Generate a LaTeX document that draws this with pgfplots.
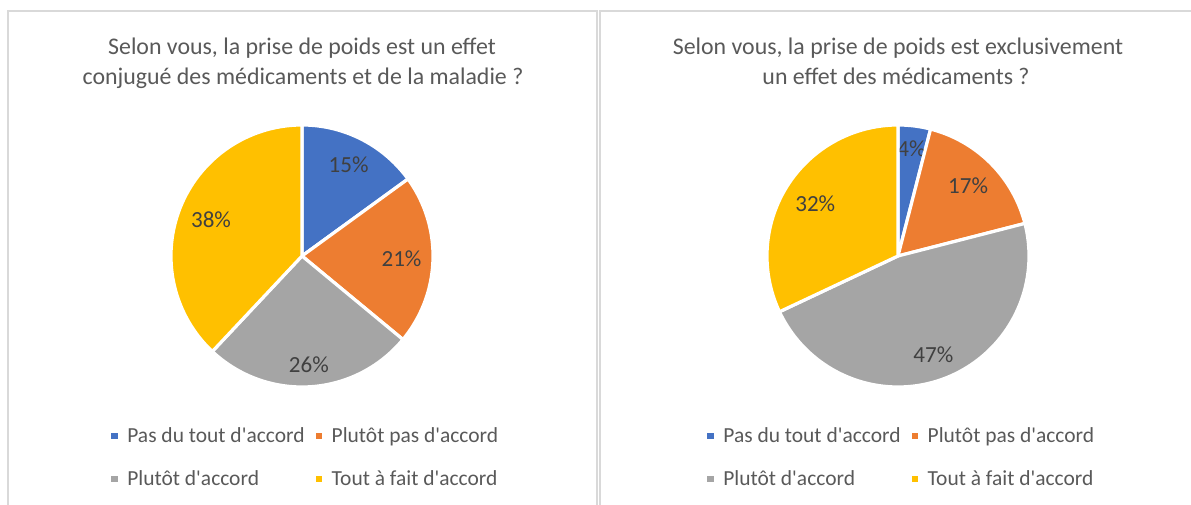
\documentclass[border=0pt]{standalone}
\usepackage{fontspec}
\setmainfont{Carlito}
\usepackage{pgfplots}
\pgfplotsset{compat=1.18}
\definecolor{cBlue}{HTML}{4472C4}
\definecolor{cOrange}{HTML}{ED7D31}
\definecolor{cGray}{HTML}{A5A5A5}
\definecolor{cYellow}{HTML}{FFC000}
\definecolor{cTitle}{HTML}{595959}
\definecolor{cLabel}{HTML}{404040}
\definecolor{cBorder}{HTML}{D9D9D9}

\tikzset{plabel/.style={font=\fontsize{17.3}{20}\selectfont, text=cLabel}}

% #1 = cumulative share before this slice (%), #2 = share (%), #3 = colour
\newcommand{\pieslice}[3]{%
  \pgfmathsetmacro{\aA}{90-3.6*(#1+#2)}%
  \pgfmathsetmacro{\aB}{90-3.6*(#1)}%
  \pgfmathsetmacro{\aM}{90-3.6*(#1+0.5*#2)}%
  \pgfmathsetmacro{\rL}{0.915-0.153*abs(cos(\aM))-0.07*abs(sin(\aM))}%
  \pgfmathsetmacro{\lx}{\rL*cos(\aM)}%
  \pgfmathsetmacro{\ly}{\rL*sin(\aM)}%
  \edef\doslice{\noexpand\addplot[fill=#3, draw=white, line width=2.4pt, line join=round, domain=\aA:\aB, samples=120, mark=none] ({cos(x)},{sin(x)}) -- (axis cs:0,0) -- cycle;
  \noexpand\node[plabel] at (axis cs:\lx,\ly) {#2\noexpand\%};}%
  \doslice
}

\pgfplotsset{
  pie/.style={
    hide axis, anchor=origin,
    x=98.25pt, y=98.25pt,
    xmin=-1.1, xmax=1.1, ymin=-1.1, ymax=1.1,
    clip=false,
    legend columns=2,
    legend cell align=left,
    legend image code/.code={\fill[##1, draw=none] (0pt,-2.4pt) rectangle (4.8pt,2.4pt);},
    legend style={draw=none, fill=none, inner sep=0pt,
      at={(axis description cs:-0.1627,-0.095)}, anchor=north west,
      font=\fontsize{16.1}{19}\selectfont, text=cTitle,
      nodes={inner sep=0pt},
      row sep=19.5pt,
      /tikz/every odd column/.append style={column sep=7.25pt},
      /tikz/every even column/.append style={column sep=8.25pt}},
  },
}

\newcommand{\q}{\textquotesingle}

\begin{document}
\begin{tikzpicture}[x=0.75pt, y=0.75pt]
\useasboundingbox (0,0) rectangle (1191,505);
% panel frames
\draw[cBorder, line width=1.2pt] (8,-10) -- (8,494) -- (597,494) -- (597,-10);
\draw[cBorder, line width=1.2pt] (600,-10) -- (600,494) -- (1200,494);

% titles
\begin{scope}[every node/.style={font=\fontsize{17.9}{21}\selectfont, text=cTitle, anchor=base}]
\node at (302,450) {Selon vous, la prise de poids est un effet};
\node at (303,420) {conjugué des médicaments et de la maladie ?};
\node at (898,450) {Selon vous, la prise de poids est exclusivement};
\node at (896,420) {un effet des médicaments ?};
\end{scope}

\begin{axis}[pie, at={(226.5pt,186.75pt)}]
\pieslice{0}{15}{cBlue}
\pieslice{15}{21}{cOrange}
\pieslice{36}{26}{cGray}
\pieslice{62}{38}{cYellow}
\legend{Pas du tout d\q accord, Plutôt pas d\q accord, Plutôt d\q accord, Tout à fait d\q accord}
\end{axis}

\begin{axis}[pie, at={(673.5pt,186.75pt)}]
\pieslice{0}{4}{cBlue}
\pieslice{4}{17}{cOrange}
\pieslice{21}{47}{cGray}
\pieslice{68}{32}{cYellow}
\legend{Pas du tout d\q accord, Plutôt pas d\q accord, Plutôt d\q accord, Tout à fait d\q accord}
\end{axis}
\end{tikzpicture}
\end{document}
